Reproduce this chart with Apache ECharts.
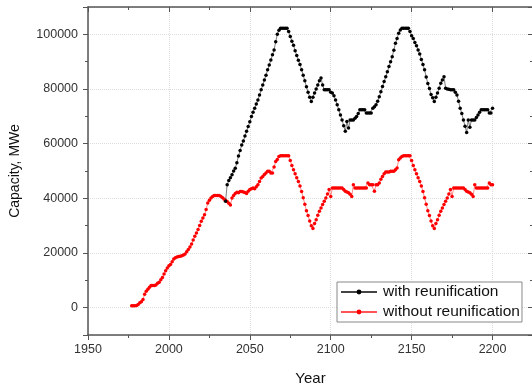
<!DOCTYPE html>
<html>
<head>
<meta charset="utf-8">
<script src="https://cdn.jsdelivr.net/npm/echarts@6/dist/echarts.min.js"></script>
<style>html,body{margin:0;padding:0;background:#fff}#c{width:532px;height:387px}</style>
</head>
<body>
<div id="c"></div>
<script>
var xTicks = [1950, 2000, 2050, 2100, 2150, 2200];
var yTicks = [0, 20000, 40000, 60000, 80000, 100000];
var seriesNames = ['with reunification', 'without reunification'];

var redStartYear = 1977;
var redValues = [
  700,700,700,800,1200,1800,2200,3000,4900,6000,
  6700,7500,8100,8100,8100,8300,8900,9300,10200,11000,
  12300,13500,14500,15300,15800,16800,17800,18300,18500,18700,
  18800,19000,19300,19600,20500,21300,22200,23300,24800,26100,
  27300,28600,30100,31600,32800,34000,35900,38300,39300,40100,
  40700,41000,41000,41000,41000,40800,40300,39800,39300,38800,
  38200,37600,40100,41000,41800,42200,42000,42500,42500,42300,
  42100,41800,42600,43200,43500,43800,43500,44200,45000,46200,
  47400,48000,48700,49300,49900,49900,49300,49300,51500,53500,
  54200,55300,55600,55600,55600,55600,55600,55600,53800,52000,
  50500,49000,47500,46200,44500,42500,40200,37800,35500,33700,
  31700,30000,29000,30800,32200,33800,35300,36500,37700,38900,
  40100,41600,43200,40700,43800,43800,43800,43800,43800,43800,
  43800,43200,42600,42300,42000,41500,40700,45000,43800,43800,
  43800,43800,43800,43800,43800,43800,45600,45000,45000,45000,
  42600,45000,45000,45600,47000,48000,49000,49600,49600,49600,
  49900,49900,49900,50500,51100,54100,54800,55300,55600,55600,
  55600,55600,55600,53800,52000,50500,49000,47500,46200,44500,
  42500,40200,37800,35500,33700,31700,30000,29000,30800,32200,
  33800,35300,36500,37700,38900,40100,41600,43200,40700,43800,
  43800,43800,43800,43800,43800,43800,43200,42600,42300,42000,
  41500,40700,45000,43800,43800,43800,43800,43800,43800,43800,
  43800,45600,45000,45000
];

var blackStartYear = 2035;
var blackValues = [
  38900,45000,46500,47500,48600,50000,51000,53000,55500,57500,
  59500,61000,62800,64500,66300,68000,69900,71500,73000,74500,
  76000,77800,79700,81500,83300,85000,87000,88800,90600,92500,
  94300,97300,100000,101500,102200,102200,102200,102200,102200,101000,
  99200,97500,96000,94000,92300,90500,89000,87000,85000,83000,
  80800,78800,77000,75400,77000,78500,80000,81500,83000,84000,
  81500,79700,79700,79700,79700,78800,78500,77500,76000,74200,
  72400,70500,68700,66600,64500,68100,65700,68700,68700,68700,
  69300,69900,71000,72400,72400,72400,72400,71200,71200,71200,
  71200,73000,73500,74200,75500,77200,79000,80900,82700,84500,
  86300,88200,90000,91800,94200,96700,98500,100400,101600,102200,
  102200,102200,102200,102200,101000,99500,98500,97000,95800,94300,
  92800,90800,89000,87000,84400,82000,80200,78000,76800,75400,
  77000,78500,80300,82100,83300,84500,80300,80000,79900,79700,
  79700,79700,78800,77800,75500,73000,71000,68700,66400,64100,
  68700,66000,68700,68700,68700,69600,70500,71500,72400,72400,
  72400,72400,72400,71200,71200,73000
];

function pairs(start, vals) {
  return vals.map(function (v, i) { return [start + i, v]; });
}

var axisColor = '#555';
var font = 'Arial, "Liberation Sans", sans-serif';

var chart = echarts.init(document.getElementById('c'), null, {renderer: 'canvas'});
chart.setOption({
  animation: false,
  backgroundColor: '#fff',
  grid: {left: 88, right: -1, top: 7, bottom: 52, containLabel: false, outerBoundsMode: 'none'},
  legend: {
    orient: 'vertical',
    left: 337, top: 282,
    padding: [2, 2, 2, 3],
    itemGap: 4,
    itemWidth: 36, itemHeight: 6,
    backgroundColor: '#fff',
    borderColor: '#888', borderWidth: 1, borderRadius: 0,
    textStyle: {fontFamily: font, fontSize: 15.5, color: '#111', padding: [0, 0, 0, 1]},
    data: seriesNames
  },
  xAxis: [{
    type: 'value', min: 1950, max: 2225, interval: 50,
    name: 'Year', nameLocation: 'middle', nameGap: 36,
    nameTextStyle: {fontFamily: font, fontSize: 15, color: '#111'},
    axisLine: {show: true, onZero: false, lineStyle: {color: axisColor, width: 1.5}},
    axisTick: {show: true, length: 5, lineStyle: {color: axisColor, width: 1}},
    minorTick: {show: true, splitNumber: 2, length: 3, lineStyle: {color: axisColor}},
    axisLabel: {fontFamily: font, fontSize: 12.5, color: '#333', margin: 8,
      showMaxLabel: false,
      formatter: function (v) { return xTicks.indexOf(v) >= 0 ? String(v) : ''; }},
    splitLine: {show: true, lineStyle: {color: '#ddd', type: 'dotted', width: 1}}
  }, {
    type: 'value', min: 1950, max: 2225, interval: 50, position: 'top',
    axisLine: {show: true, onZero: false, lineStyle: {color: axisColor, width: 1.5}},
    axisTick: {show: true, inside: true, length: 5, lineStyle: {color: axisColor}},
    minorTick: {show: true, splitNumber: 2, length: 3, lineStyle: {color: axisColor}},
    axisLabel: {show: false}, splitLine: {show: false}
  }],
  yAxis: [{
    type: 'value', min: -10000, max: 110000, splitNumber: 6,
    name: 'Capacity, MWe', nameLocation: 'middle', nameGap: 66,
    nameTextStyle: {fontFamily: font, fontSize: 14, color: '#111'},
    axisLine: {show: true, onZero: false, lineStyle: {color: axisColor, width: 1.5}},
    axisTick: {show: true, length: 5, lineStyle: {color: axisColor}},
    minorTick: {show: true, splitNumber: 2, length: 3, lineStyle: {color: axisColor}},
    axisLabel: {fontFamily: font, fontSize: 12.5, color: '#333', margin: 10,
      showMinLabel: false, showMaxLabel: false,
      formatter: function (v) { return yTicks.indexOf(v) >= 0 ? String(v) : ''; }},
    splitLine: {show: true, lineStyle: {color: '#ddd', type: 'dotted', width: 1}}
  }, {
    type: 'value', min: -10000, max: 110000, splitNumber: 6, position: 'right',
    axisLine: {show: true, onZero: false, lineStyle: {color: axisColor, width: 1.5}},
    axisTick: {show: true, inside: true, length: 5, lineStyle: {color: axisColor}},
    minorTick: {show: true, splitNumber: 2, length: 3, lineStyle: {color: axisColor}},
    axisLabel: {show: false}, splitLine: {show: false}
  }],
  series: [{
    name: seriesNames[0], type: 'line',
    data: pairs(blackStartYear, blackValues),
    symbol: 'circle', symbolSize: 3.5, showSymbol: true,
    itemStyle: {color: '#000'},
    lineStyle: {color: '#444', width: 0.7},
    z: 3
  }, {
    name: seriesNames[1], type: 'line',
    data: pairs(redStartYear, redValues),
    symbol: 'circle', symbolSize: 3.5, showSymbol: true,
    itemStyle: {color: '#ff0000'},
    lineStyle: {color: '#ff5555', width: 0.7},
    z: 2
  }]
});
</script>
</body>
</html>
